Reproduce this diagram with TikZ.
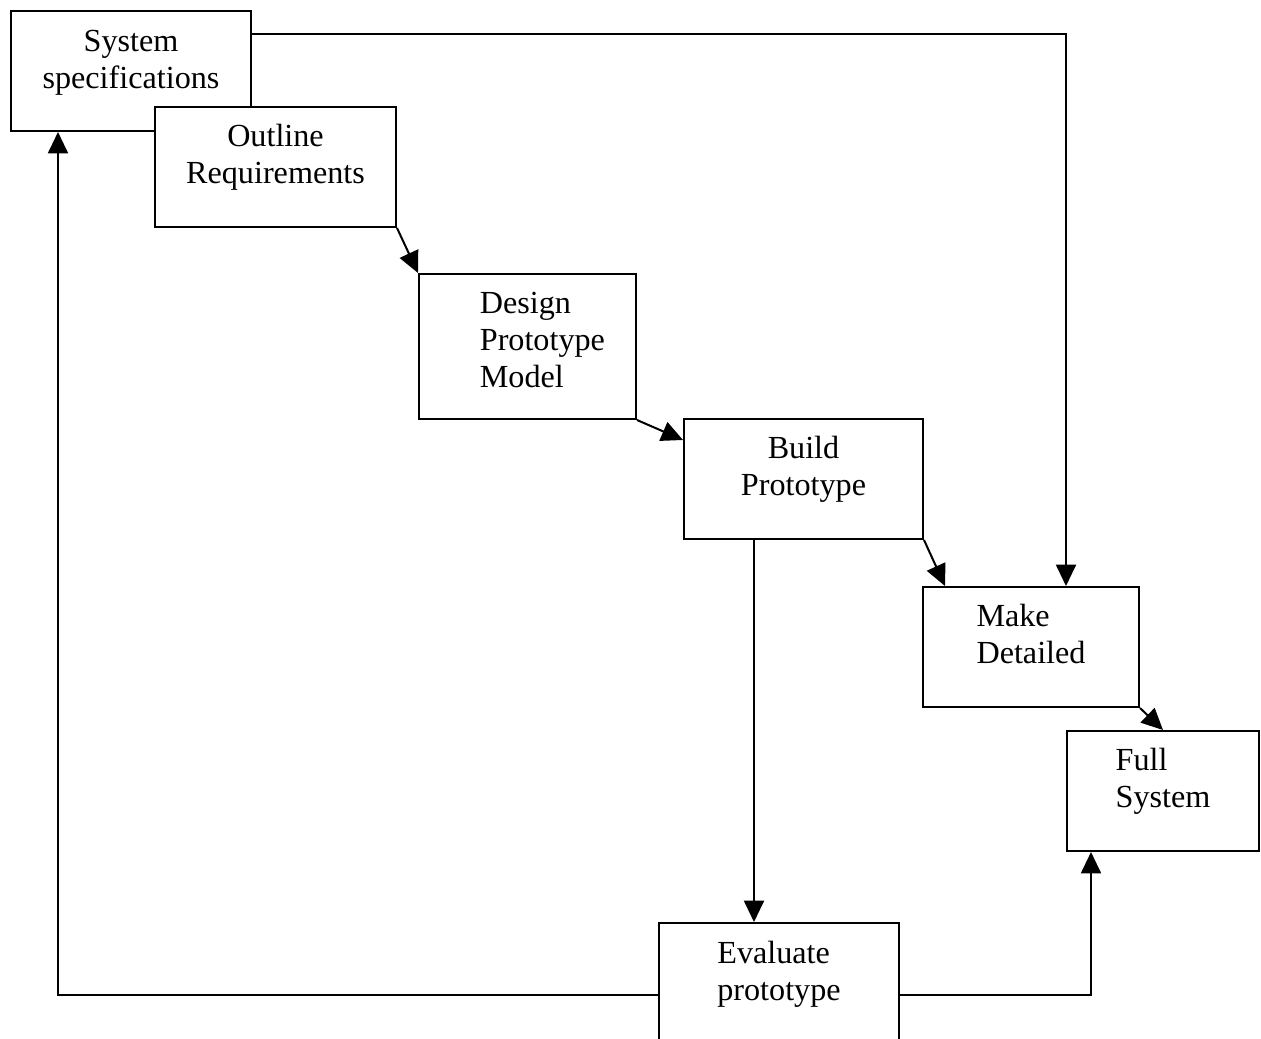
\documentclass[tikz,border=0pt]{standalone}
\usepackage{fontspec}
\setmainfont{Liberation Serif}
\usetikzlibrary{arrows.meta,calc}

\newcommand{\pxl}{0.373pt}

\tikzset{
  stage depth/.store in=\stagedepth, stage depth=9.8pt,
  stage/.style={draw, line width=0.75pt, fill=white, anchor=north west, inner sep=0pt,
    font=\fontsize{12}{13.8}\selectfont,
    execute at end node={\rule[-\stagedepth]{0pt}{0pt}}},
  flow/.style={line width=0.75pt, -{Triangle[length=8pt,width=7.5pt]}}
}

\begin{document}
\begin{tikzpicture}[x=\pxl,y=-\pxl]
\useasboundingbox (0,0) rectangle (1261,1039);

\node[stage, stage depth=8.6pt, align=center, minimum width=240*\pxl, minimum height=120*\pxl] (sys) at (10,10) {System\\specifications};
\node[stage, align=center, minimum width=241*\pxl, minimum height=120*\pxl] (outline) at (154,106) {Outline\\Requirements};
\node[stage, stage depth=4.8pt, align=left, text width=217*\pxl, minimum height=145*\pxl,
  execute at begin node={\leftskip=22.7pt}] (design) at (418,273) {Design\\Prototype\\Model};
\node[stage, align=center, minimum width=239*\pxl, minimum height=120*\pxl] (build) at (683,418) {Build\\Prototype};
\node[stage, align=left, minimum width=216*\pxl, minimum height=120*\pxl] (make) at (922,586) {Make\\Detailed};
\node[stage, align=left, minimum width=192*\pxl, minimum height=120*\pxl] (full) at (1066,730) {Full\\System};
\node[stage, stage depth=18.3pt, align=left, minimum width=240*\pxl, minimum height=144*\pxl] (eval) at (658,922) {Evaluate\\prototype};

% main sequence
\draw[flow] (outline.south east) -- (design.north west);
\draw[flow] (design.south east) -- ($(build.north west)+(0,22)$);
\draw[flow] (build.south east) -- ($(make.north west)+(23,0)$);
\draw[flow] (make.south east) -- (full.north);

% prototype to evaluation
\coordinate (bd) at ($(build.south west)+(71,0)$);
\draw[flow] (bd) -- (bd |- eval.north);

% feedback and bypass lines
\draw[flow] ($(sys.north east)+(0,24)$) -| ($(make.north west)+(144,0)$);
\draw[flow] (eval.west) -| ($(sys.south west)+(48,0)$);
\draw[flow] (eval.east) -| ($(full.south west)+(25,0)$);
\end{tikzpicture}
\end{document}
